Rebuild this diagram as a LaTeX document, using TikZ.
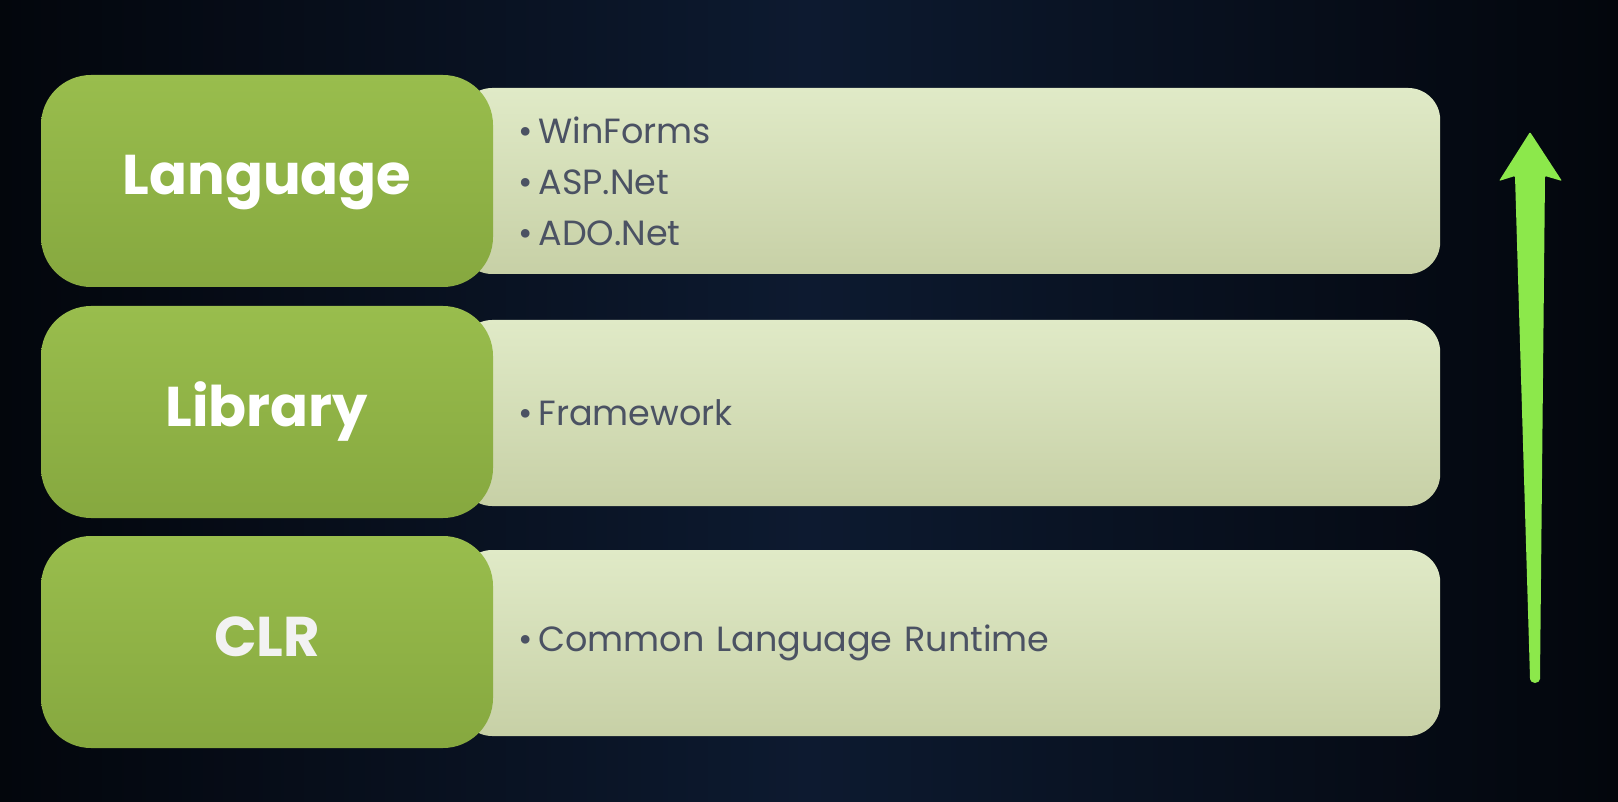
\documentclass[tikz,border=0pt]{standalone}
\usepackage{fontspec}
\setmainfont{Poppins}
\usepackage{xcolor}
\usepackage{tikz}
\usetikzlibrary{positioning, arrows.meta}
\definecolor{nightblue}{HTML}{0D1A30}
\definecolor{nightblack}{HTML}{03060C}
\definecolor{leafgreen}{HTML}{99BD4D}
\definecolor{leafdark}{HTML}{86A83F}
\definecolor{palegreen}{HTML}{E0EAC7}
\definecolor{palegreendark}{HTML}{C7D0A6}
\definecolor{itemgray}{HTML}{4B5263}
\definecolor{upgreen}{HTML}{8CE84B}

\tikzset{
  layerhead/.style={top color=leafgreen, bottom color=leafdark, rounded corners=50pt,
    minimum width=452pt, minimum height=212pt, text=white,
    text height=40pt, text depth=12pt,
    font=\bfseries\fontsize{56}{66}\selectfont},
  layerbody/.style={top color=palegreen, bottom color=palegreendark, rounded corners=32pt,
    minimum width=980pt, minimum height=186pt, anchor=west, inner xsep=58pt,
    text width=864pt, align=left, text=itemgray,
    font=\fontsize{35}{51}\selectfont}
}

\begin{document}
\begin{tikzpicture}[x=1pt, y=-1pt]
    \useasboundingbox (0,0) rectangle (1618,802);
    \shade[left color=nightblack, right color=nightblack, middle color=nightblue]
      (0,0) rectangle (1618,802);

    % bodies first, heads drawn over them
    \node[layerbody] (langbody) at (460,181)
      {\textbullet\,WinForms\\\textbullet\,ASP.Net\\\textbullet\,ADO.Net};
    \node[layerbody] (libbody) at (460,413) {\textbullet\,Framework};
    \node[layerbody] (clrbody) at (460,643) {\textbullet\,Common Language Runtime};

    \node[layerhead] (lang) at (267,181) {Language};
    \node[layerhead] (lib) at (267,412) {Library};
    \node[layerhead, text=white!90!gray] (clr) at (267,642) {CLR};

    % upward arrow
    \coordinate (uptip) at (1530,132);
    \coordinate (upfoot) at (1535,678);
    \fill[upgreen, rounded corners=1pt]
      (uptip) -- (1562,181) -- (1545,176) -- ([xshift=5pt]upfoot)
      arc[start angle=0, end angle=-180, radius=5pt]
      -- (1515,176) -- (1499,181) -- cycle;
  \end{tikzpicture}
\end{document}
